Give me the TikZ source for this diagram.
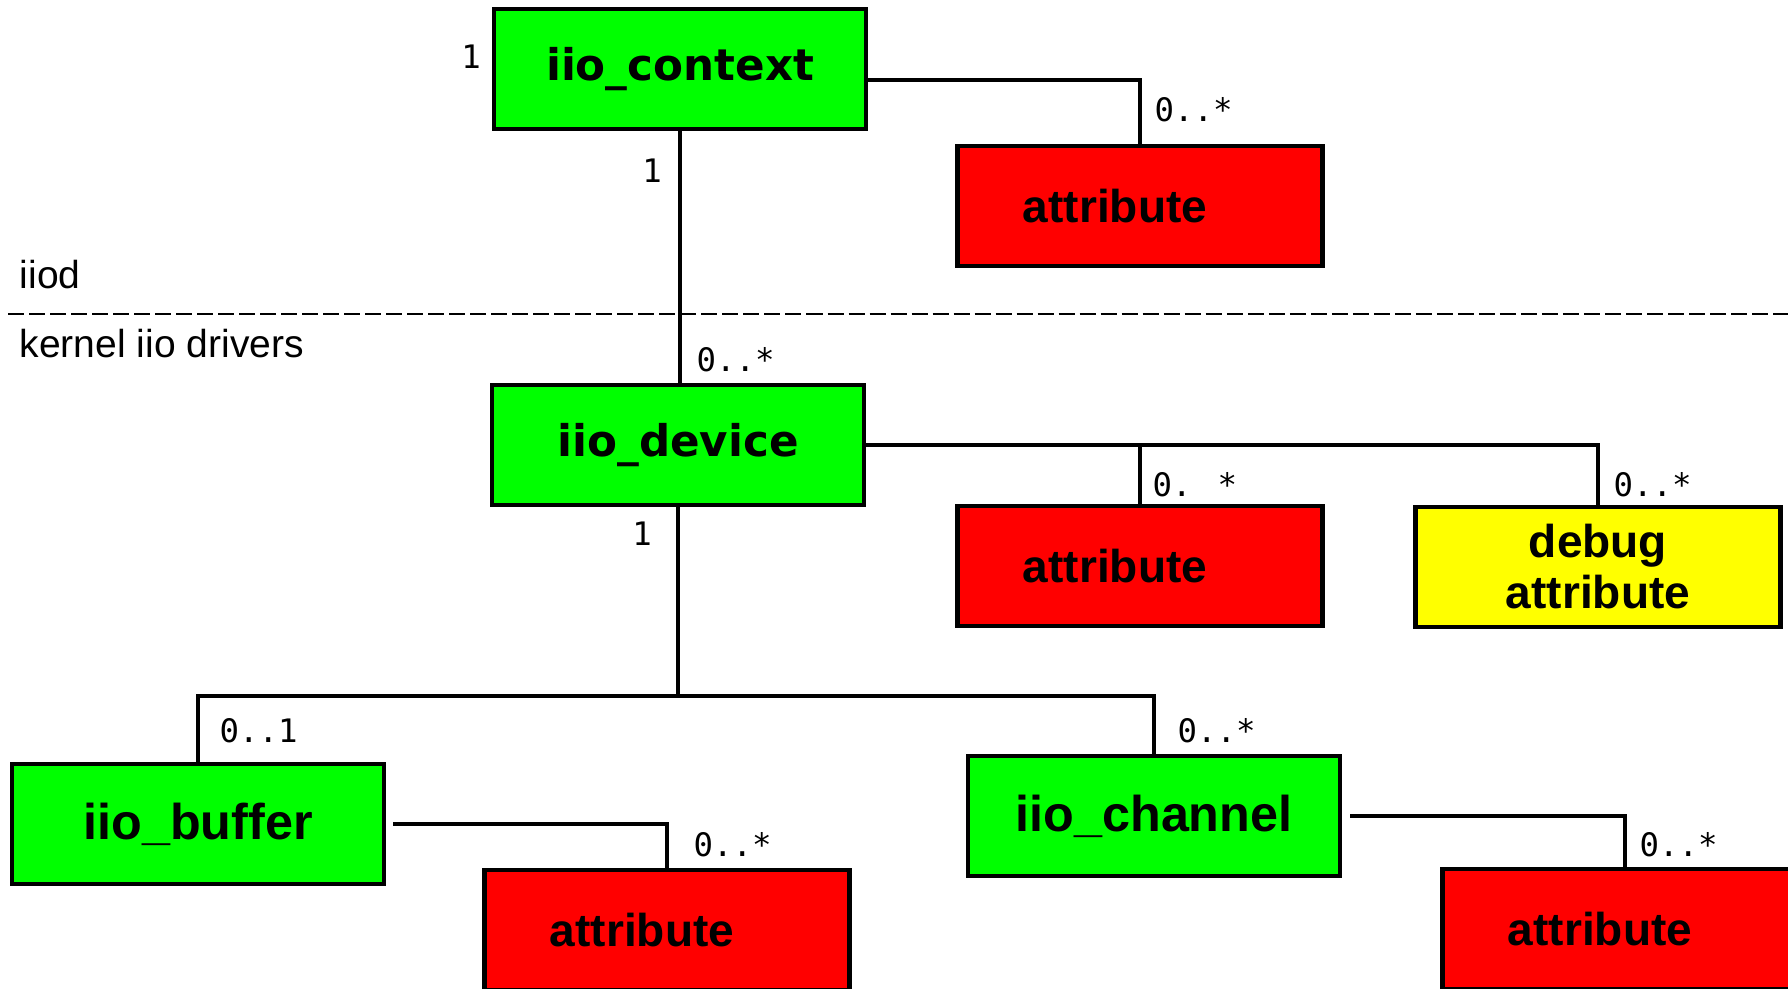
\documentclass[tikz,border=0pt]{standalone}
\usepackage{fontspec}
\setmainfont{Liberation Sans}
\newfontfamily\classfont{DejaVu Sans}
\newfontfamily\multfont{DejaVu Sans Mono}
\usepackage{xcolor}
\usetikzlibrary{positioning}

\definecolor{classgreen}{HTML}{00FF00}
\definecolor{attrred}{HTML}{FF0000}
\definecolor{debugyellow}{HTML}{FFFF00}

\begin{document}
\begin{tikzpicture}[
    x=0.01cm, y=-0.01cm,
    box/.style={rectangle, draw, line width=1.3pt, minimum height=1.2cm, inner sep=0pt},
    class/.style={box, fill=classgreen, minimum width=3.72cm, font=\classfont\bfseries\fontsize{12.4}{14}\selectfont},
    leaf/.style={class, font=\bfseries\fontsize{14.3}{17}\selectfont},
    attr/.style={box, fill=attrred, minimum width=3.65cm, font=\bfseries\fontsize{13.1}{15}\selectfont, execute at end node={\hspace*{0.5cm}}},
    debugattr/.style={box, fill=debugyellow, minimum width=3.65cm, align=center, font=\bfseries\fontsize{13.1}{14.5}\selectfont},
    mult/.style={inner sep=0pt, font=\multfont\fontsize{9.2}{11}\selectfont},
    layer/.style={inner sep=0pt, anchor=west, font=\fontsize{11.1}{13}\selectfont},
    link/.style={line width=1pt},
    divider/.style={line width=0.6pt, dash pattern=on 0.16cm off 0.05cm}
]

\useasboundingbox (0,0) rectangle (1788,989);
\fill[white] (0,0) rectangle (1788,989);
\clip (0,0) rectangle (1788,989);

\node[class] (ctx) at (680,69) {iio\_context};
\node[attr] (ctxattr) at (1140,206) {attribute};
\node[class] (dev) at (678,445) {iio\_device};
\node[attr] (devattr) at (1140,566) {attribute};
\node[debugattr] (devdbg) at (1598,567) {debug\\attribute};
\node[leaf] (buf) at (198,824) {iio\_buffer};
\node[attr] (bufattr) at (667,930) {attribute};
\node[leaf] (chan) at (1154,816) {iio\_channel};
\node[attr] (chanattr) at (1625,929) {attribute};

\node[layer] (iiod) at (19,275) {iiod};
\node[layer] (kernel) at (19,344) {kernel iio drivers};
\draw[divider] (8,314) -- (1788,314);

\coordinate (fork) at (678,696);

\draw[link] (ctx.south) -- (ctx.south |- dev.north);
\draw[link] ([yshift=-0.11cm]ctx.east) -| (ctxattr.north);
\draw[link] (dev.east) -| (devattr.north);
\draw[link] (dev.east) -| (devdbg.north);
\draw[link] (dev.south) -- (fork);
\draw[link] (buf.north) |- (fork) -| (chan.north);
\draw[link] ([xshift=0.07cm]buf.east) -| (bufattr.north);
\draw[link] ([xshift=0.08cm]chan.east) -| (chanattr.north);

\node[mult] (ctxleft) at (471,57) {1};
\node[mult] (ctxdown) at (652,171) {1};
\node[mult, anchor=west] (ctxmany) at (1154,110) {0..*};
\node[mult, anchor=west] (devup) at (696,360) {0..*};
\node[mult] (devdown) at (642,534) {1};
\node[mult, anchor=west] (devmany) at (1152,485) {0. *};
\node[mult, anchor=west] (dbgmany) at (1613,485) {0..*};
\node[mult, anchor=west] (bufone) at (219,731) {0..1};
\node[mult, anchor=west] (chanmany) at (1177,731) {0..*};
\node[mult, anchor=west] (bufmany) at (693,845) {0..*};
\node[mult, anchor=west] (chanattrmany) at (1639,845) {0..*};

\end{tikzpicture}
\end{document}
